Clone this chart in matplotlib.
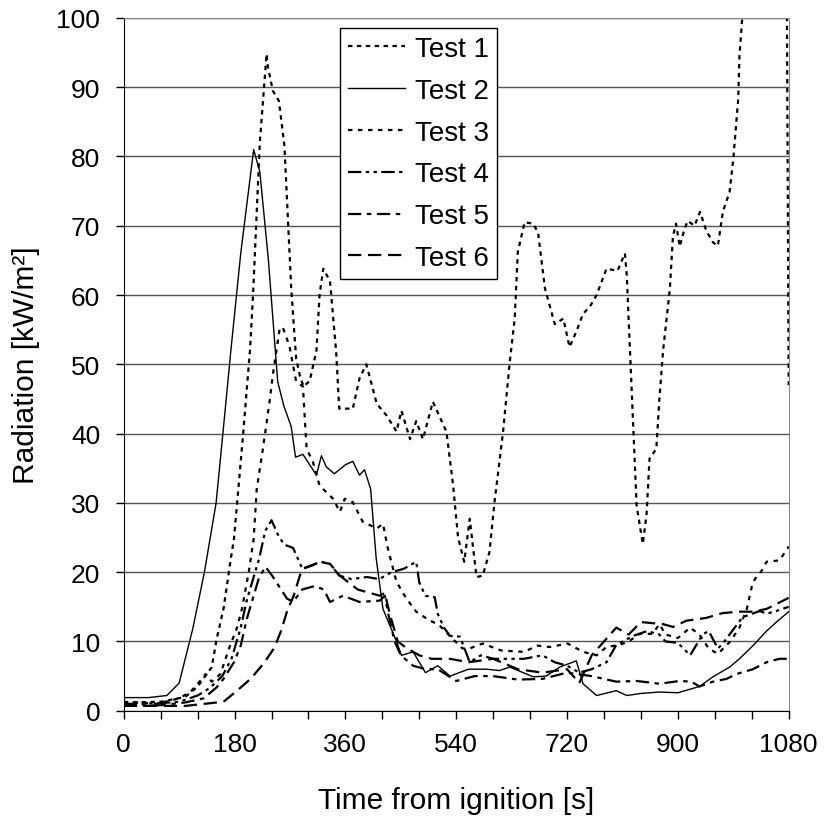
import numpy as np
import matplotlib
matplotlib.use("Agg")
import matplotlib.pyplot as plt
from matplotlib.ticker import MultipleLocator

plt.rcParams['font.family'] = ['Liberation Sans', 'DejaVu Sans']

# values (time [s], radiation [kW/m2])
t1 = [0, 60, 100, 120, 143, 151, 162, 174, 179, 193, 205, 210, 221, 232, 234, 242, 252, 261,
      272, 280, 286, 292, 302, 313, 318, 324, 335, 345, 350, 372, 383, 394, 411, 427, 443, 451,
      465, 475, 486, 502, 524, 535, 543, 553, 562, 567, 573, 583, 594, 602, 616, 627, 635, 640,
      651, 665, 673, 684, 700, 714, 724, 735, 746, 757, 768, 784, 802, 814, 817, 833, 843, 849,
      854, 865, 870, 876, 887, 892, 897, 903, 911, 916, 927, 936, 946, 957, 965, 973, 984, 990,
      998, 1000, 1005, 1075, 1080]
v1 = [1.2, 1.3, 2.0, 3.5, 6.3, 10.4, 14.7, 22, 24.8, 39, 52, 60, 82, 94.8, 93, 89.5, 88, 81.5,
      61, 50.8, 48.4, 46.8, 47.6, 52, 60, 63.8, 62, 51.8, 43.6, 43.6, 48, 50, 44.3, 42.6, 40.3, 43.3,
      39.2, 41.8, 39.2, 44.6, 40.3, 32.5, 25, 21.5, 27.7, 23.8, 19.3, 19.5, 22.9, 30, 40.2, 50.4,
      56.6, 66.2, 70.5, 70.3, 69, 61, 55.8, 56.6, 52.5, 54.7, 57.3, 58.3, 60, 63.8, 63.5, 66, 62.8,
      29.6, 24.1, 28.2, 36.4, 37.8, 45, 52, 60.9, 68.5, 70.3, 67, 69.6, 70.7, 70, 72, 69.3, 67.6,
      67.1, 72, 74.9, 79.6, 88.3, 94.5, 100.5, 140, 47]

t2 = [0, 40, 70, 90, 112, 131, 150, 161, 174, 190, 211, 221, 235, 250, 260, 272, 279, 291, 313,
      321, 329, 342, 360, 372, 383, 391, 401, 410, 421, 443, 451, 470, 490, 510, 530, 560, 589,
      610, 627, 665, 686, 708, 735, 746, 768, 800, 817, 840, 870, 900, 935, 957, 984, 1000, 1022,
      1044, 1060, 1080]
v2 = [1.9, 1.9, 2.2, 4, 11.8, 20, 30, 40, 52, 66, 81, 77.8, 65, 47.5, 44, 41, 36.6, 37, 34,
      36.8, 35.2, 34.2, 35.5, 36, 34, 34.8, 32, 22, 14.7, 10, 8, 8.5, 5.5, 6.5, 5, 6, 6,
      5.8, 6.3, 4.9, 5, 6.3, 7.2, 3.9, 2.2, 2.9, 2.2, 2.5, 2.7, 2.6, 3.5, 4.9, 6.3, 7.5, 9.4,
      11.5, 12.8, 14.3]

t3 = [0, 54, 90, 108, 127, 133, 143, 157, 171, 184, 192, 203, 211, 216, 226, 237, 242, 253, 258,
      269, 280, 291, 297, 307, 318, 340, 351, 359, 372, 388, 411, 421, 429, 443, 459, 475, 492,
      513, 534, 550, 562, 583, 613, 650, 672, 692, 721, 746, 768, 784, 805, 820, 838, 859, 870,
      880, 900, 920, 935, 950, 965, 985, 1000, 1012, 1020, 1025, 1036, 1044, 1065, 1080]
v3 = [1.3, 1.0, 1.8, 2.7, 4.6, 5.3, 4.2, 5.3, 9, 12, 14.7, 20, 24.8, 32, 37.8, 44.7, 48.4, 55, 55.4,
      52.7, 47.5, 46.8, 37.8, 36, 32.5, 30.6, 28.7, 30.6, 30.1, 27.3, 26.3, 27, 23.4, 18.6, 16.2,
      14.3, 13.3, 12.3, 10.4, 9, 9, 9.7, 8.7, 8.5, 9.4, 9.2, 9.7, 8.5, 8, 9.2, 9.5, 10, 11.1, 11.1,
      12.5, 11, 10.5, 12, 11, 9, 8.2, 10, 12, 14.7, 17.9, 19, 20.2, 21.5, 21.7, 23.7]

t4 = [0, 30, 60, 90, 120, 140, 160, 175, 190, 200, 210, 220, 230, 240, 250, 260, 275, 290, 305,
      320, 335, 350, 370, 395, 415, 435, 455, 475, 480, 490, 505, 510, 520, 530, 546, 562, 580,
      600, 620, 650, 680, 700, 720, 740, 760, 784, 800, 827, 850, 870, 880, 900, 920, 940, 950,
      965, 973, 1005, 1033, 1044, 1060, 1080]
v4 = [1.0, 1.0, 1.1, 1.3, 2.2, 3.3, 5, 7.5, 12, 16, 19, 22, 26, 27.5, 25.5, 24, 23.5, 20.5, 21,
      21.5, 21.2, 19.5, 19, 19.3, 19, 20, 20.5, 21.5, 18.5, 16.6, 16.4, 14, 12, 10.8, 10.7, 7, 8,
      7.5, 7.5, 7.5, 8, 7, 6.5, 5.5, 6, 7, 9.5, 10.8, 11.5, 11, 10, 9.8, 8, 11, 11.5,
      9, 9.7, 13.5, 14.4, 14, 14.4, 15]

t5 = [0, 60, 100, 130, 151, 162, 179, 190, 200, 208, 219, 230, 241, 265, 275, 290, 310, 325, 335,
      356, 383, 416, 424, 432, 440, 450, 470, 490, 510, 540, 570, 600, 640, 680, 720, 760, 800,
      833, 870, 903, 922, 935, 957, 979, 995, 1022, 1044, 1065, 1080]
v5 = [0.7, 0.8, 1.2, 1.8, 3.4, 4.6, 7, 9.4, 13.3, 15.7, 19, 20.8, 19.5, 16.2, 15.7, 17.5, 18,
      17.5, 15.7, 16.6, 15.7, 15.9, 16.6, 13, 10, 8, 6.5, 6, 6, 4.3, 5, 5, 4.5, 4.6, 5.5, 5, 4.2,
      4.3, 3.9, 4.3, 4.2, 3.5, 4.2, 4.6, 5.3, 6, 7, 7.5, 7.5]

t6 = [0, 100, 162, 184, 206, 227, 244, 255, 265, 276, 286, 291, 307, 318, 335, 351, 380, 416,
      424, 432, 445, 460, 480, 500, 530, 560, 600, 640, 680, 720, 740, 760, 780, 800, 820, 840,
      876, 892, 914, 946, 973, 1000, 1022, 1044, 1060, 1080]
v6 = [0.7, 0.7, 1.3, 2.9, 4.6, 6.8, 9, 11.4, 14.3, 16.6, 19.5, 20.5, 21, 21.5, 21.2, 19.5, 17.5,
      16.6, 17, 14, 10, 9, 8, 7.5, 7.5, 7, 7.5, 6, 5.5, 6, 4, 8, 10, 12, 11, 12.8,
      12.5, 12.1, 13, 13.4, 14.1, 14.3, 14.3, 14.7, 15.4, 16.3]

labels = ['Test 1', 'Test 2', 'Test 3', 'Test 4', 'Test 5', 'Test 6']

fig = plt.figure(figsize=(8.25, 8.2), dpi=100)
ax = fig.add_axes([0.150, 0.132, 0.806, 0.845])

ax.plot(t1, v1, color='black', lw=1.6, ls=(0, (2, 2)), label=labels[0])
ax.plot(t2, v2, color='black', lw=1.0, ls='-', label=labels[1])
ax.plot(t3, v3, color='black', lw=1.6, ls=(0, (2, 2.5)), label=labels[2])
ax.plot(t4, v4, color='black', lw=1.6, ls=(0, (6, 2, 1.5, 2, 1.5, 2)), label=labels[3])
ax.plot(t5, v5, color='black', lw=1.6, ls=(0, (6, 2.5, 2, 2.5)), label=labels[4])
ax.plot(t6, v6, color='black', lw=1.6, ls=(0, (6, 3)), label=labels[5])

ax.set_xlim(0, 1080)
ax.set_ylim(0, 100)
ax.xaxis.set_major_locator(MultipleLocator(180))
ax.xaxis.set_minor_locator(MultipleLocator(60))
ax.yaxis.set_major_locator(MultipleLocator(10))
ax.tick_params(which='both', direction='out', length=6, width=1, labelsize=19)
ax.tick_params(axis='x', pad=9)
ax.tick_params(axis='y', pad=11)
ax.grid(axis='y', color='#555555', lw=1)
ax.set_axisbelow(True)
for s in ['top', 'right']:
    ax.spines[s].set_color('#888888')

ax.set_xlabel('Time from ignition [s]', fontsize=21.5, labelpad=22)
ax.set_ylabel('Radiation [kW/m²]', fontsize=21.5, labelpad=12)

leg = ax.legend(loc='upper left', bbox_to_anchor=(0.325, 0.986), borderaxespad=0,
                fontsize=20, handlelength=2.05, labelspacing=0.57, handletextpad=0.35,
                fancybox=False, framealpha=1, edgecolor='black', borderpad=0.3)
leg.get_frame().set_linewidth(1)

fig.savefig('out.png', dpi=100)
